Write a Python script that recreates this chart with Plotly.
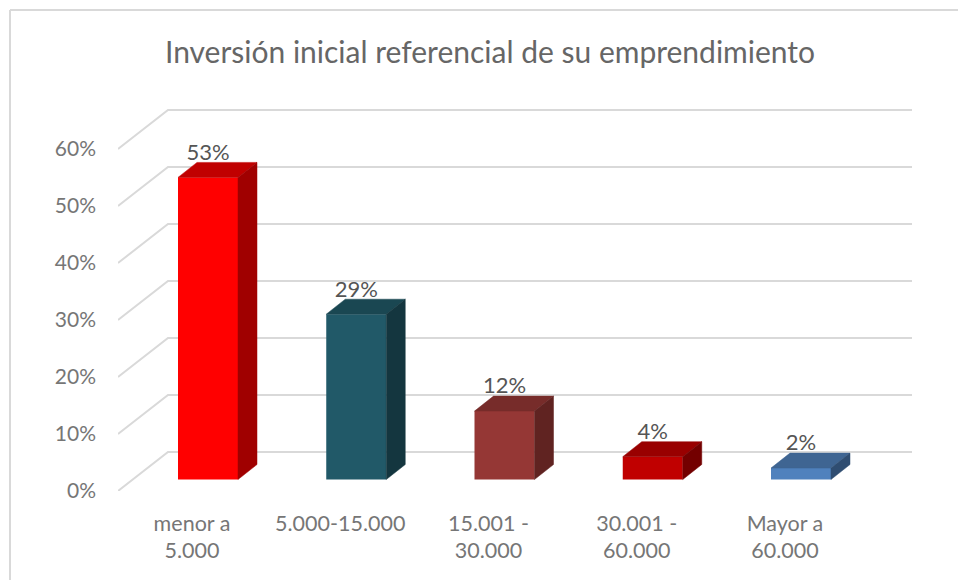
import plotly.graph_objects as go

title = "Inversión inicial referencial de su emprendimiento"
categories = ["menor a<br>5.000", "5.000-15.000", "15.001 -<br>30.000", "30.001 -<br>60.000", "Mayor a<br>60.000"]
values = [53, 29, 12, 4, 2]
labels = ["53%", "29%", "12%", "4%", "2%"]
y_ticks = [0, 10, 20, 30, 40, 50, 60]
y_tick_labels = ["0%", "10%", "20%", "30%", "40%", "50%", "60%"]
front_colors = ["#FF0000", "#215968", "#953735", "#C00000", "#4F81BD"]
top_colors = ["#C00000", "#1A4752", "#772C2A", "#990000", "#3F6592"]
side_colors = ["#A00000", "#14363F", "#602321", "#730000", "#2F4D71"]
GRID = "#D9D9D9"

W, H = 958, 580
L, R, T, B = 118, 912, 98, 491
PX_X = 148.25          # pixels per category
PX_Y = 5.7             # pixels per percent
X0 = 192               # pixel of first category label
BAR_SHIFT = 16 / PX_X  # bars stand 16px right of their label
BAR_W = 60 / PX_X
DX, DY = 19 / PX_X, 15 / PX_Y     # bar depth
WALL_DX, WALL_DY = 50 / PX_X, 39 / PX_Y  # floor depth
xr = [(L - X0) / PX_X, (R - X0) / PX_X]
yr = [0, (B - T) / PX_Y]
bar_lift = 11.5 / PX_Y
yr2 = [-bar_lift, yr[1] - bar_lift]

fig = go.Figure()

# 3D gridlines: short diagonal on the side wall, then along the back wall
gx, gy = [], []
for t in y_ticks:
    gx += [xr[0], xr[0] + WALL_DX, xr[1], None]
    gy += [t, t + WALL_DY, t + WALL_DY, None]
fig.add_trace(go.Scatter(x=gx, y=gy, mode="lines", line=dict(color=GRID, width=2),
                         hoverinfo="skip", showlegend=False, cliponaxis=False))

xpos = [i + BAR_SHIFT for i in range(len(values))]
for xc, v, fc, tc, sc in zip(xpos, values, front_colors, top_colors, side_colors):
    a, b = xc - BAR_W / 2, xc + BAR_W / 2
    fig.add_trace(go.Scatter(x=[a, b, b + DX, a + DX, a], y=[v, v, v + DY, v + DY, v],
                             yaxis="y2", mode="lines", fill="toself", fillcolor=tc,
                             line=dict(color=tc, width=0.5), hoverinfo="skip", showlegend=False))
    fig.add_trace(go.Scatter(x=[b, b + DX, b + DX, b, b], y=[0, DY, v + DY, v, 0],
                             yaxis="y2", mode="lines", fill="toself", fillcolor=sc,
                             line=dict(color=sc, width=0.5), hoverinfo="skip", showlegend=False))

fig.add_trace(go.Bar(x=xpos, y=values, width=BAR_W, yaxis="y2",
                     marker=dict(color=front_colors, line=dict(width=0)), showlegend=False))

fig.add_trace(go.Scatter(x=xpos, y=[v + DY - 0.5 for v in values], yaxis="y2", mode="text",
                         text=labels, textposition="top center",
                         textfont=dict(color="#555555", size=22, family="Lato"),
                         hoverinfo="skip", showlegend=False, cliponaxis=False))

fig.update_layout(
    width=W, height=H, autosize=False,
    margin=dict(l=L, r=W - R, t=T, b=H - B),
    paper_bgcolor="white", plot_bgcolor="white",
    font=dict(family="Lato", color="#767676", size=21),
    title=dict(text=title, x=490 / W, xanchor="center", y=1 - 52 / H, yanchor="middle",
               font=dict(size=30, color="#666666", family="Lato")),
    xaxis=dict(range=xr, tickmode="array", tickvals=list(range(len(categories))), ticktext=categories,
               tickfont=dict(size=21.5), showgrid=False, zeroline=False, showline=False, ticks="",
               ticklabelstandoff=17),
    yaxis=dict(range=yr, tickmode="array", tickvals=y_ticks, ticktext=y_tick_labels,
               showgrid=False, zeroline=False, showline=False, ticks="", ticklabelstandoff=21),
    yaxis2=dict(range=yr2, overlaying="y", side="left", visible=False),
    shapes=[
        dict(type="line", xref="paper", yref="paper", layer="below", line=dict(color=GRID, width=2),
             x0=(10 - L) / (R - L), x1=(10 - L) / (R - L), y0=(B - H) / (B - T), y1=(B - 10) / (B - T)),
        dict(type="line", xref="paper", yref="paper", layer="below", line=dict(color=GRID, width=2),
             x0=(10 - L) / (R - L), x1=(W - L) / (R - L), y0=(B - 10) / (B - T), y1=(B - 10) / (B - T)),
    ],
)
fig.write_html("out.html", config={"displayModeBar": False},
               post_script="document.body.style.margin='0';")
